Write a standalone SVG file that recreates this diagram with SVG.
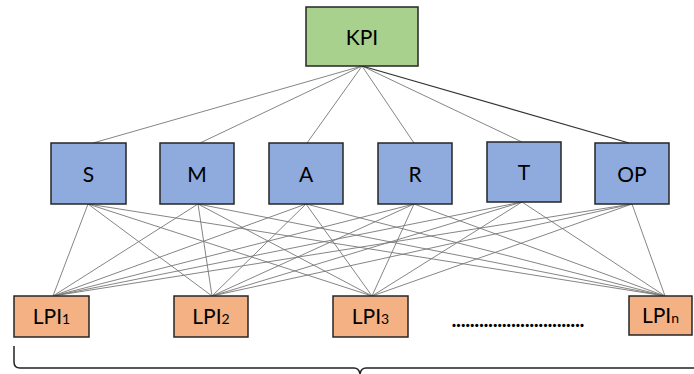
<svg xmlns="http://www.w3.org/2000/svg" width="694" height="374" viewBox="0 0 694 374">
<style>
.box{stroke:#262626;stroke-width:1.5}
.kpi{fill:#a9d18e}
.mid{fill:#8faadc}
.lpi{fill:#f4b183}
.lbl{font-family:Lato,"Open Sans","Liberation Sans",sans-serif;font-size:21px;fill:#000;text-anchor:middle}
.sub{font-size:14px}
.con line{stroke:#777;stroke-width:0.9}
</style>
<rect width="694" height="374" fill="#fff"/>
<g id="connectors" class="con">
<line x1="362" y1="66" x2="93" y2="143"/>
<line x1="362" y1="66" x2="200" y2="143"/>
<line x1="362" y1="66" x2="307" y2="143"/>
<line x1="362" y1="66" x2="414" y2="143"/>
<line x1="362" y1="66" x2="522" y2="142"/>
<line x1="362" y1="66" x2="629" y2="143" style="stroke:#333;stroke-width:1.3"/>
<line x1="88" y1="204" x2="53" y2="296"/>
<line x1="88" y1="204" x2="212" y2="296"/>
<line x1="88" y1="204" x2="372" y2="296"/>
<line x1="88" y1="204" x2="665" y2="296"/>
<line x1="198" y1="204" x2="53" y2="296"/>
<line x1="198" y1="204" x2="212" y2="296"/>
<line x1="198" y1="204" x2="372" y2="296"/>
<line x1="198" y1="204" x2="665" y2="296"/>
<line x1="306" y1="204" x2="53" y2="296"/>
<line x1="306" y1="204" x2="212" y2="296"/>
<line x1="306" y1="204" x2="372" y2="296"/>
<line x1="306" y1="204" x2="665" y2="296"/>
<line x1="414" y1="204" x2="53" y2="296"/>
<line x1="414" y1="204" x2="212" y2="296"/>
<line x1="414" y1="204" x2="372" y2="296"/>
<line x1="414" y1="204" x2="665" y2="296"/>
<line x1="522" y1="202" x2="53" y2="296"/>
<line x1="522" y1="202" x2="212" y2="296"/>
<line x1="522" y1="202" x2="372" y2="296"/>
<line x1="522" y1="202" x2="665" y2="296"/>
<line x1="632" y1="204" x2="53" y2="296"/>
<line x1="632" y1="204" x2="212" y2="296"/>
<line x1="632" y1="204" x2="372" y2="296"/>
<line x1="632" y1="204" x2="665" y2="296"/>
</g>
<g id="kpi"><rect class="box kpi" x="306" y="7" width="112" height="59"/><text class="lbl" x="362" y="44.5">KPI</text></g>
<g id="s"><rect class="box mid" x="51" y="143" width="75" height="61"/><text class="lbl" x="88.5" y="181.5">S</text></g>
<g id="m"><rect class="box mid" x="160" y="143" width="74" height="61"/><text class="lbl" x="197" y="181.5">M</text></g>
<g id="a"><rect class="box mid" x="269" y="143" width="74" height="61"/><text class="lbl" x="306" y="181.5">A</text></g>
<g id="r"><rect class="box mid" x="378" y="143" width="74" height="61"/><text class="lbl" x="415" y="181.5">R</text></g>
<g id="t"><rect class="box mid" x="487" y="142" width="74" height="60"/><text class="lbl" x="524" y="179.5">T</text></g>
<g id="op"><rect class="box mid" x="595" y="143" width="74" height="61"/><text class="lbl" x="632" y="181.5">OP</text></g>
<g id="lpi1"><rect class="box lpi" x="14" y="296" width="75" height="41"/><text class="lbl" x="51.5" y="323.5">LPI<tspan class="sub">1</tspan></text></g>
<g id="lpi2"><rect class="box lpi" x="174" y="296" width="74" height="41"/><text class="lbl" x="211" y="323.5">LPI<tspan class="sub">2</tspan></text></g>
<g id="lpi3"><rect class="box lpi" x="333" y="296" width="75" height="41"/><text class="lbl" x="370.5" y="323.5">LPI<tspan class="sub">3</tspan></text></g>
<g id="lpin"><rect class="box lpi" x="629" y="296" width="63" height="39"/><text class="lbl" x="660.5" y="322.5">LPI<tspan class="sub">n</tspan></text></g>
<text class="lbl" x="518" y="327" textLength="133" lengthAdjust="spacing" style="font-weight:bold">.............................</text>
<path d="M14 346 L14 362 Q14 368 20 368 L354 368 Q359 368 360 374 Q361 368 366 368 L694 368" fill="none" stroke="#222" stroke-width="1.5"/>
</svg>
